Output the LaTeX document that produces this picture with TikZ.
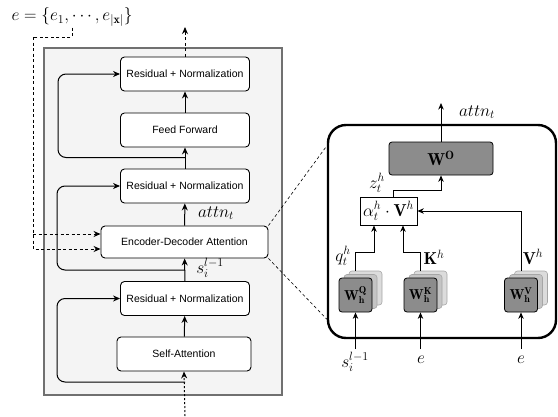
\documentclass[tikz,border=0pt]{standalone}
\usepackage{fontspec}
\newfontfamily\arial{Liberation Sans}
\usetikzlibrary{arrows.meta}
\definecolor{outerline}{HTML}{707070}
\definecolor{outerfill}{HTML}{F4F4F4}
\definecolor{wgray}{HTML}{8C8C8C}
\definecolor{sh1}{HTML}{C4C4C4}
\definecolor{sh2}{HTML}{DCDCDC}
\begin{document}
\begin{tikzpicture}[x=1pt,y=-1pt,
  blk/.style={draw, line width=0.9pt, rounded corners=4pt, fill=white, font=\arial\fontsize{10.5}{12}\selectfont, minimum width=129pt, minimum height=34pt, inner sep=0pt},
  arr/.style={line width=1pt, -{Stealth[length=7pt,width=6pt]}},
  parr/.style={line width=0.8pt, -{Stealth[length=6.5pt,width=5.5pt]}},
  dsh/.style={dash pattern=on 3pt off 2.5pt},
  dot/.style={dash pattern=on 2pt off 2pt},
  mlab/.style={font=\LARGE, inner sep=1pt},
  wbox/.style={draw, line width=0.8pt, rounded corners=3pt, fill=wgray, minimum width=33pt, minimum height=34pt, inner sep=0pt},
  shbox/.style={draw=gray!70, line width=0.6pt, rounded corners=3pt, minimum width=33pt, minimum height=34pt, inner sep=0pt}
]
\useasboundingbox (0,0) rectangle (558,416);
% outer decoder box
\node[draw=outerline, line width=2.6pt, fill=outerfill, minimum width=238pt, minimum height=347pt, inner sep=0pt] (dec) at (163,221.5) {};
% blocks
\node[blk] (rn3) at (185,74) {Residual + Normalization};
\node[blk] (ff) at (185,130) {Feed Forward};
\node[blk] (rn2) at (185,186) {Residual + Normalization};
\node[blk, minimum width=167pt, minimum height=32pt] (ed) at (184.5,242) {Encoder-Decoder Attention};
\node[blk] (rn1) at (185,298.5) {Residual + Normalization};
\node[blk, minimum width=134pt] (sa) at (184,354) {Self-Attention};
% main flow
\draw[arr] (sa) -- (rn1);
\draw[arr] (rn1) -- (ed);
\draw[arr] (ed) -- (rn2);
\draw[arr] (rn2) -- (ff);
\draw[arr] (ff) -- (rn3);
\coordinate (out) at (185,27);
\draw[arr, dsh] (rn3) -- (out);
\coordinate (in) at (185,416);
\draw[arr, dot] (in) -- (sa.south);
\node[mlab] (lattn) at (216,213) {$attn_t$};
\node[mlab] (ls) at (210,268) {$s_i^{l-1}$};
% residuals
\coordinate (r1a) at (185,382);
\coordinate (r1b) at (57,382);
\draw[arr, rounded corners=8pt] (r1a) -- (r1b) |- (rn1.west);
\coordinate (r2a) at (185,270);
\coordinate (r2b) at (57,270);
\draw[arr, rounded corners=8pt] (r2a) -- (r2b) |- (rn2.west);
\coordinate (r3a) at (185,157.5);
\coordinate (r3b) at (58,157.5);
\draw[arr, rounded corners=8pt] (r3a) -- (r3b) |- (rn3.west);
% encoder output
\node[mlab] (elab) at (72,17) {$e=\{e_1,\cdots,e_{|\mathbf{x}|}\}$};
\coordinate (eb1) at (72,37);
\coordinate (eb2) at (33,37);
\coordinate (eb3) at (33,234);
\draw[line width=1pt, dsh] (elab.south) -- (eb1) -- (eb2);
\draw[arr, dsh] (eb2) |- ([yshift=-7pt]ed.west);
\draw[arr, dsh] (eb3) -- ([yshift=8pt]ed.west);
% panel
\node[draw, line width=2.4pt, rounded corners=18pt, minimum width=228pt, minimum height=213pt, inner sep=0pt] (panel) at (442,231.5) {};
\draw[dsh, line width=0.6pt] (ed.north east) -- ([yshift=-22pt]panel.north west);
\draw[dsh, line width=0.6pt] (ed.south east) -- ([yshift=20pt]panel.south west);
% W^O
\node[draw, line width=0.8pt, rounded corners=3pt, fill=wgray, minimum width=104pt, minimum height=33pt, inner sep=0pt, font=\LARGE] (wo) at (441,158.5) {$\mathbf{W}^{\mathbf{O}}$};
\coordinate (attnout) at (441,103);
\draw[parr] (wo) -- (attnout);
\node[mlab] (lattn2) at (477,112) {$attn_t$};
% alpha box
\node[draw, line width=0.8pt, fill=white, minimum width=57pt, minimum height=28pt, inner sep=0.5pt, font=\LARGE] (al) at (388.5,211) {$\alpha_t^h\cdot\mathbf{V}^h$};
\draw[parr] ([xshift=5pt]al.north) -- ++(0,-6) -| (wo.south);
\node[mlab] (lz) at (377,183) {$z_t^h$};
% W_h boxes with stacked shadows
\foreach \n/\cx/\sup in {wq/355.5/Q, wk/420.5/K, wv/521/V}{
  \node[shbox, fill=sh2] (\n s2) at (\cx+10,288) {};
  \node[shbox, fill=sh1] (\n s1) at (\cx+5,291.5) {};
  \node[wbox, font=\Large] (\n) at (\cx,295) {$\mathbf{W}_{\mathbf{h}}^{\mathbf{\sup}}$};
}
\draw[parr] (wqs2.north -| wq.north) -- ++(0,-18) -| ([xshift=-14.5pt]al.south);
\draw[parr] (wks2.north -| wk.north) -- ++(0,-18) -| ([xshift=14.5pt]al.south);
\draw[parr] (wvs2.north -| wv.north) |- (al.east);
\node[mlab] (lq) at (343,256) {$q_t^h$};
\node[mlab] (lk) at (434,257) {$\mathbf{K}^h$};
\node[mlab] (lv) at (533,257) {$\mathbf{V}^h$};
% inputs
\coordinate (qin) at (355.5,349);
\coordinate (kin) at (420.5,349);
\coordinate (vin) at (521,349);
\draw[parr] (qin) -- (wq.south);
\draw[parr] (kin) -- (wk.south);
\draw[parr] (vin) -- (wv.south);
\node[mlab] (ls2) at (355,362) {$s_i^{l-1}$};
\node[mlab] (le1) at (421,360) {$e$};
\node[mlab] (le2) at (521,360) {$e$};
\end{tikzpicture}
\end{document}
